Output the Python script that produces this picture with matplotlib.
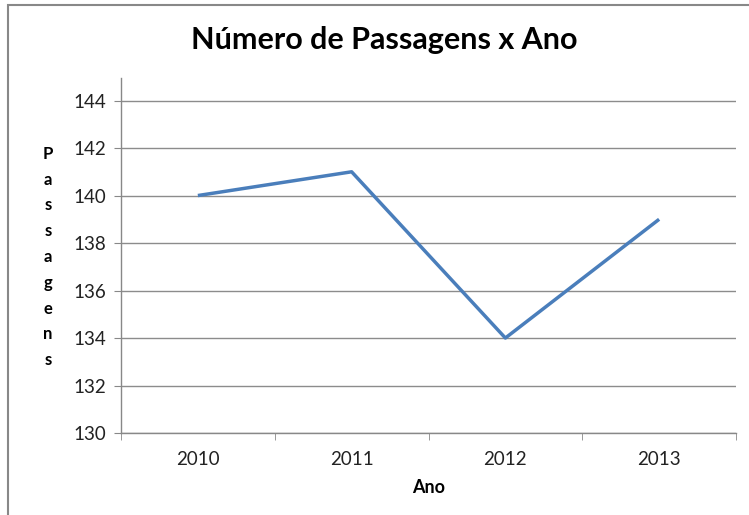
import matplotlib.pyplot as plt
from matplotlib.patches import Rectangle

anos = ['2010', '2011', '2012', '2013']
passagens = [140, 141, 134, 139]
y_ticks = [130, 132, 134, 136, 138, 140, 142, 144]

plt.rcParams['font.family'] = ['Lato', 'DejaVu Sans']

fig = plt.figure(figsize=(7.49, 5.15), dpi=100)
ax = fig.add_axes([121/749, 1-433/515, (736-121)/749, (433-78)/515])

x = range(len(anos))
ax.plot(x, passagens, color='#4A7EBB', linewidth=2.5, solid_capstyle='butt')

ax.set_xlim(-0.5, len(anos)-0.5)
ax.set_ylim(130, 144.95)
ax.set_yticks(y_ticks)
ax.set_xticks(x)
ax.set_xticklabels(anos)
ax.set_xticks([i-0.5 for i in range(len(anos)+1)], minor=True)
ax.tick_params(axis='x', which='major', length=0, pad=13, labelsize=13.5)
ax.tick_params(axis='x', which='minor', length=5, color='#888888', direction='out')
ax.tick_params(axis='y', length=5, color='#888888', labelsize=13.5, pad=6)
for lbl in ax.get_yticklabels() + ax.get_xticklabels():
    lbl.set_color('#222222')

ax.grid(axis='y', color='#8c8c8c', linewidth=1)
ax.set_axisbelow(True)
for s in ['top', 'right']:
    ax.spines[s].set_visible(False)
for s in ['left', 'bottom']:
    ax.spines[s].set_color('#888888')
    ax.spines[s].set_linewidth(1)

ax.set_xlabel('Ano', fontsize=13, fontweight='bold', labelpad=8)
fig.text(48/749, 1-257/515, '\n'.join('Passagens'), fontsize=12, fontweight='bold',
         ha='center', va='center', linespacing=1.75)
fig.text(384/749, 1-40/515, 'Número de Passagens x Ano', fontsize=22, fontweight='bold',
         ha='center', va='center')

# borda do gráfico
fig.patches.append(Rectangle((8/749, -0.1), 1.2, 1-5/515+0.1, transform=fig.transFigure,
                             fill=False, edgecolor='#888888', linewidth=1.5))

plt.savefig('out.png')
